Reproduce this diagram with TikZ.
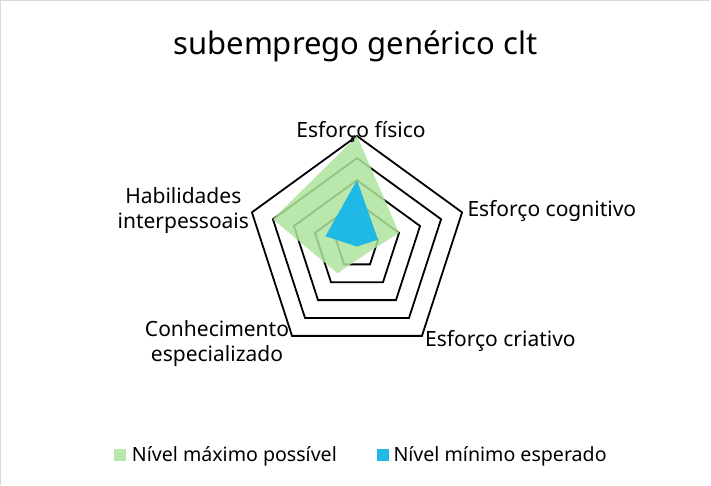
\documentclass[tikz,border=0pt]{standalone}
\usepackage{fontspec}
\setmainfont{Noto Sans}
\definecolor{maxgreen}{RGB}{174,227,156}
\definecolor{minblue}{RGB}{32,185,230}
\definecolor{framegray}{RGB}{217,217,217}
\tikzset{
  ring/.style={draw=black, line width=1.8pt, line join=miter},
  axislabel/.style={font=\fontsize{21}{25}\selectfont, inner sep=0pt},
  legendtext/.style={font=\fontsize{19.6}{24}\selectfont, inner sep=0pt, anchor=base west},
  legendbox/.style={minimum size=12pt, inner sep=0pt},
}
\begin{document}
\begin{tikzpicture}[x=1pt,y=1pt]
  \useasboundingbox (0,0) rectangle (711,485);
  \draw[framegray] (0.5,0) -- (0.5,484.5) -- (710,484.5);
  \node[font=\fontsize{31}{36}\selectfont, inner sep=0pt, anchor=base] (title) at (355.4,430) {subemprego genérico clt};
  \begin{scope}[shift={(357,238.5)}]
    \foreach \r in {1,...,5}
      \draw[ring] (90:22.1*\r) -- (18:22.1*\r) -- (-54:22.1*\r) -- (-126:22.1*\r) -- (162:22.1*\r) -- cycle;
    \fill[maxgreen, opacity=0.85]
      (90:5*22.1) -- (18:2*22.1) -- (-54:0.5*22.1) -- (-126:1.5*22.1) -- (162:4*22.1) -- cycle;
    \fill[minblue]
      (90:3*22.1) -- (18:1*22.1) -- (-54:0) -- (-126:0) -- (162:1.5*22.1) -- cycle;
  \end{scope}
  \node[axislabel, anchor=base] (fisico) at (361,347.3) {Esforço físico};
  \node[axislabel, anchor=base west] (cognitivo) at (467.3,268.3) {Esforço cognitivo};
  \node[axislabel, anchor=base west] (criativo) at (425,138.3) {Esforço criativo};
  \node[axislabel, align=center, anchor=base] (conhecimento) at (217,123.3) {Conhecimento\\especializado};
  \node[axislabel, align=center, anchor=base] (habilidades) at (183.3,256.7) {Habilidades\\interpessoais};
  \node[legendbox, fill=maxgreen, fill opacity=0.85] (maxbox) at (119.7,29.9) {};
  \node[legendtext] (maxtext) at (131.7,24) {Nível máximo possível};
  \node[legendbox, fill=minblue] (minbox) at (382.7,29.9) {};
  \node[legendtext] (mintext) at (393.3,24) {Nível mínimo esperado};
\end{tikzpicture}
\end{document}
